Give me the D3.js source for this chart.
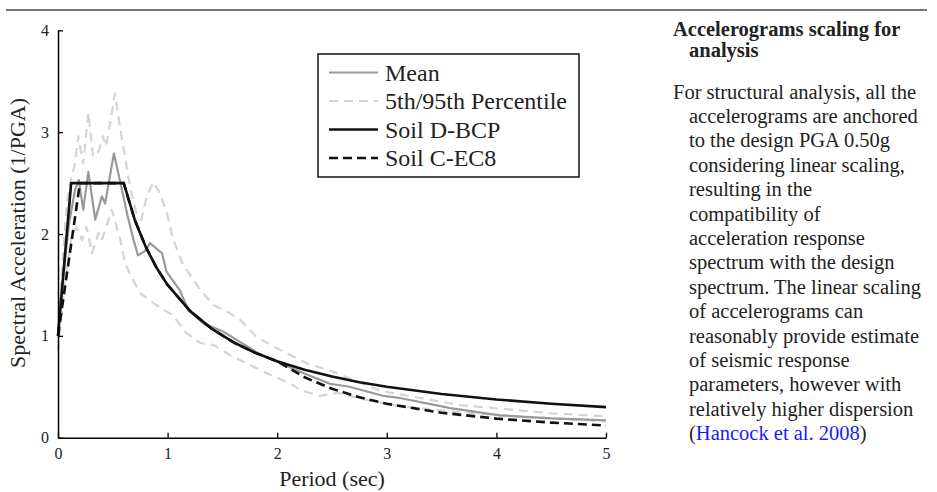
<!DOCTYPE html>
<html>
<head>
<meta charset="utf-8">
<script src="https://cdn.jsdelivr.net/npm/d3@7"></script>
<style>
  html, body { margin: 0; padding: 0; background: #fff; }
  svg { display: block; }
</style>
</head>
<body>
<svg id="chart" width="937" height="492"></svg>
<script>
// ---------- data ----------
const xTicks = [0, 1, 2, 3, 4, 5];
const yTicks = [0, 1, 2, 3, 4];

const meanT = [0, 0.05, 0.1, 0.155, 0.19, 0.23, 0.277, 0.34, 0.40, 0.43, 0.51, 0.57, 0.63, 0.69, 0.73, 0.79, 0.84, 0.95, 0.99, 1.11, 1.19, 1.33, 1.51, 1.63, 1.81, 2.03, 2.27, 2.48, 2.66, 2.97, 3.12, 3.58, 4.03, 4.5, 5.0];
const meanS = [1.0, 1.6, 2.1, 2.43, 2.53, 2.24, 2.61, 2.14, 2.37, 2.30, 2.79, 2.50, 2.20, 1.94, 1.79, 1.83, 1.91, 1.81, 1.63, 1.45, 1.25, 1.12, 1.04, 0.96, 0.84, 0.73, 0.62, 0.53, 0.50, 0.41, 0.39, 0.29, 0.22, 0.19, 0.17];

const p95T = [0, 0.04, 0.08, 0.12, 0.155, 0.185, 0.23, 0.277, 0.32, 0.37, 0.41, 0.44, 0.52, 0.57, 0.62, 0.66, 0.71, 0.76, 0.81, 0.87, 0.93, 0.99, 1.05, 1.14, 1.30, 1.42, 1.54, 1.66, 1.81, 2.03, 2.27, 2.48, 2.94, 3.67, 4.5, 5.0];
const p95S = [1.0, 1.7, 2.3, 2.55, 2.69, 2.96, 2.69, 3.19, 2.76, 2.81, 2.96, 2.86, 3.38, 3.02, 2.70, 2.45, 2.22, 2.14, 2.37, 2.51, 2.40, 2.22, 1.95, 1.70, 1.45, 1.30, 1.24, 1.16, 0.99, 0.86, 0.73, 0.66, 0.46, 0.32, 0.24, 0.21];

const p05T = [0, 0.064, 0.125, 0.17, 0.22, 0.26, 0.31, 0.37, 0.40, 0.49, 0.57, 0.61, 0.66, 0.75, 0.90, 1.05, 1.17, 1.30, 1.42, 1.57, 1.72, 1.93, 2.12, 2.21, 2.39, 2.55, 2.82, 3.12, 3.67, 4.2, 5.0];
const p05S = [0.86, 1.55, 1.97, 2.07, 1.94, 2.07, 1.81, 2.01, 1.94, 2.24, 1.94, 1.72, 1.60, 1.42, 1.30, 1.20, 1.03, 0.93, 0.91, 0.81, 0.73, 0.62, 0.53, 0.47, 0.41, 0.44, 0.37, 0.31, 0.25, 0.21, 0.16];

const bcpT = [0, 0.12, 0.6, 0.7, 0.8, 0.9, 1.0, 1.2, 1.4, 1.6, 1.8, 2.0, 2.25, 2.5, 2.75, 3.0, 3.5, 4.0, 4.5, 5.0];
const bcpS = [1.0, 2.5, 2.5, 2.14, 1.875, 1.667, 1.5, 1.25, 1.071, 0.9375, 0.833, 0.75, 0.667, 0.6, 0.545, 0.5, 0.429, 0.375, 0.333, 0.3];

const ec8T = [0, 0.2, 0.6, 0.7, 0.8, 0.9, 1.0, 1.2, 1.4, 1.6, 1.8, 2.0, 2.25, 2.5, 2.75, 3.0, 3.5, 4.0, 4.5, 5.0];
const ec8S = [1.0, 2.5, 2.5, 2.14, 1.875, 1.667, 1.5, 1.25, 1.071, 0.9375, 0.833, 0.75, 0.593, 0.48, 0.397, 0.333, 0.245, 0.1875, 0.148, 0.12];

const legendLabels = ["Mean", "5th/95th Percentile", "Soil D-BCP", "Soil C-EC8"];
const xLabel = "Period (sec)";
const yLabel = "Spectral Acceleration (1/PGA)";

const sideHeading = ["Accelerograms scaling for", "analysis"];
const sideBody = [
  "For structural analysis, all the",
  "accelerograms are anchored",
  "to the design PGA 0.50g",
  "considering linear scaling,",
  "resulting in the",
  "compatibility of",
  "acceleration response",
  "spectrum with the design",
  "spectrum. The linear scaling",
  "of accelerograms can",
  "reasonably provide estimate",
  "of seismic response",
  "parameters, however with",
  "relatively higher dispersion"
];
const citation = "Hancock et al. 2008";

// ---------- drawing ----------
const FONT = "'Liberation Serif', 'Times New Roman', serif";
const svg = d3.select("#chart");

// top rule
svg.append("line").attr("x1", 6).attr("x2", 927).attr("y1", 10).attr("y2", 10)
  .attr("stroke", "#777").attr("stroke-width", 2);

const x = d3.scaleLinear().domain([0, 5]).range([58, 606]);
const y = d3.scaleLinear().domain([0, 4]).range([437.7, 30.3]);

const zip = (T, S) => T.map((t, i) => [t, S[i]]);
const line = d3.line().x(d => x(d[0])).y(d => y(d[1]));

const series = [
  { d: zip(p95T, p95S), color: "#d4d4d4", w: 2.2, dash: "9,6" },
  { d: zip(p05T, p05S), color: "#d4d4d4", w: 2.2, dash: "9,6" },
  { d: zip(meanT, meanS), color: "#999", w: 2.2, dash: null },
  { d: zip(bcpT, bcpS), color: "#111", w: 2.6, dash: null },
  { d: zip(ec8T, ec8S), color: "#111", w: 2.6, dash: "9,5" }
];
svg.append("g").selectAll("path").data(series).join("path")
  .attr("d", s => line(s.d))
  .attr("fill", "none")
  .attr("stroke", s => s.color)
  .attr("stroke-width", s => s.w)
  .attr("stroke-dasharray", s => s.dash)
  .attr("stroke-linejoin", "round");

// axes
const xAxis = d3.axisBottom(x).tickValues(xTicks).tickFormat(d3.format("d"))
  .tickSizeInner(-5).tickSizeOuter(0).tickPadding(10);
const yAxis = d3.axisLeft(y).tickValues(yTicks).tickFormat(d3.format("d"))
  .tickSizeInner(-5).tickSizeOuter(0).tickPadding(9);

const gx = svg.append("g").attr("transform", `translate(0,${y(0)})`).call(xAxis);
const gy = svg.append("g").attr("transform", `translate(${x(0)},0)`).call(yAxis);
[gx, gy].forEach(g => {
  g.select(".domain").attr("stroke", "#000").attr("stroke-width", 1.5);
  g.selectAll(".tick line").attr("stroke", "#000").attr("stroke-width", 1.3);
  g.selectAll(".tick text").attr("font-family", FONT).attr("font-size", 16).attr("fill", "#222");
});

// axis labels
svg.append("text").attr("x", 332).attr("y", 486).attr("text-anchor", "middle")
  .attr("font-family", FONT).attr("font-size", 22).attr("fill", "#222").text(xLabel);
svg.append("text").attr("transform", "translate(25,233) rotate(-90)").attr("text-anchor", "middle")
  .attr("font-family", FONT).attr("font-size", 22).attr("fill", "#222").text(yLabel);

// legend
const lg = svg.append("g");
lg.append("rect").attr("x", 318).attr("y", 54).attr("width", 261).attr("height", 123)
  .attr("fill", "#fff").attr("stroke", "#111").attr("stroke-width", 1.5);
const legendStyles = [
  { color: "#999", w: 2.2, dash: null },
  { color: "#d4d4d4", w: 2.2, dash: "9,6" },
  { color: "#111", w: 2.6, dash: null },
  { color: "#111", w: 2.6, dash: "9,5" }
];
const rowY = d3.scalePoint().domain(legendLabels).range([72.5, 158]);
legendLabels.forEach((lab, i) => {
  const yy = rowY(lab);
  lg.append("line").attr("x1", 329).attr("x2", 378).attr("y1", yy).attr("y2", yy)
    .attr("stroke", legendStyles[i].color).attr("stroke-width", legendStyles[i].w)
    .attr("stroke-dasharray", legendStyles[i].dash);
  lg.append("text").attr("x", 385).attr("y", yy + 8).attr("font-family", FONT)
    .attr("font-size", 24).attr("fill", "#222").text(lab);
});

// side text
const side = svg.append("g").attr("font-family", FONT).attr("fill", "#222");
sideHeading.forEach((t, i) => {
  side.append("text").attr("x", i === 0 ? 673 : 689).attr("y", 35.5 + i * 21.5)
    .attr("font-size", 20.5).attr("font-weight", "bold").text(t);
});
sideBody.forEach((t, i) => {
  side.append("text").attr("x", i === 0 ? 673 : 689).attr("y", 98.5 + i * 24.4)
    .attr("font-size", 20.5).text(t);
});
const cite = side.append("text").attr("x", 689).attr("y", 98.5 + sideBody.length * 24.4)
  .attr("font-size", 20.5);
cite.append("tspan").text("(");
cite.append("tspan").attr("fill", "#1a1aff").text(citation);
cite.append("tspan").text(")");
</script>
</body>
</html>
